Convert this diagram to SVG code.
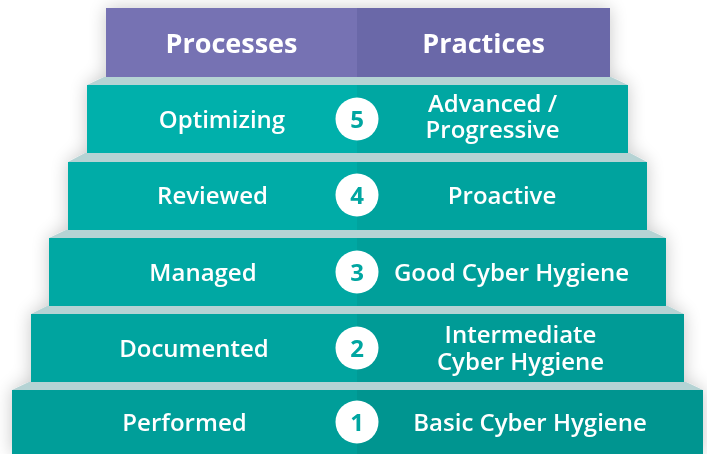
<svg xmlns="http://www.w3.org/2000/svg" width="707" height="454" viewBox="0 0 707 454">
<defs>
<filter id="sh" x="-10%" y="-10%" width="120%" height="120%">
<feGaussianBlur in="SourceAlpha" stdDeviation="9"/>
<feComponentTransfer><feFuncA type="linear" slope="0.22"/></feComponentTransfer>
<feMerge><feMergeNode/><feMergeNode in="SourceGraphic"/></feMerge>
</filter>
</defs>
<style>
.lbl{font-family:"Open Sans","Liberation Sans",sans-serif;font-size:24px;font-weight:600;fill:#ffffff;text-anchor:middle}
.hdr{font-family:"Open Sans","Liberation Sans",sans-serif;font-size:27px;font-weight:700;fill:#ffffff;text-anchor:middle}
.num{font-family:"Open Sans","Liberation Sans",sans-serif;font-size:24px;font-weight:700;fill:#00a6a1;text-anchor:middle}
.bev{fill:#b5d3d4}
.dot{fill:#ffffff}
</style>
<rect width="707" height="454" fill="#ffffff"/>
<g filter="url(#sh)">
<g id="header">
<rect x="106" y="8" width="251" height="69" fill="#7672b3"/>
<rect x="357" y="8" width="253" height="69" fill="#6b67a8"/>
<text class="hdr" x="231.5" y="53">Processes</text>
<text class="hdr" x="483.5" y="53">Practices</text>
</g>
<g id="step5">
<polygon class="bev" points="104,77 611,77 628,85 87,85"/>
<rect x="87" y="85" width="270" height="68" fill="#00b0ab"/>
<rect x="357" y="85" width="271" height="68" fill="#00a7a2"/>
<circle class="dot" cx="357" cy="119" r="21.5"/>
<text class="num" x="357" y="127.5">5</text>
<text class="lbl" x="222" y="127.5">Optimizing</text>
<text class="lbl" x="492.5" y="112">Advanced /</text>
<text class="lbl" x="492.5" y="138">Progressive</text>
</g>
<g id="step4">
<polygon class="bev" points="85,153 630,153 647,162 68,162"/>
<rect x="68" y="162" width="289" height="68" fill="#00aca7"/>
<rect x="357" y="162" width="290" height="68" fill="#00a39e"/>
<circle class="dot" cx="357" cy="195" r="21.5"/>
<text class="num" x="357" y="203.5">4</text>
<text class="lbl" x="212.5" y="203.5">Reviewed</text>
<text class="lbl" x="502" y="203.5">Proactive</text>
</g>
<g id="step3">
<polygon class="bev" points="66,230 649,230 666,238 49,238"/>
<rect x="49" y="238" width="308" height="68" fill="#00a8a3"/>
<rect x="357" y="238" width="309" height="68" fill="#009f9a"/>
<circle class="dot" cx="357" cy="272" r="21.5"/>
<text class="num" x="357" y="280.5">3</text>
<text class="lbl" x="203" y="280.5">Managed</text>
<text class="lbl" x="511.5" y="280.5">Good Cyber Hygiene</text>
</g>
<g id="step2">
<polygon class="bev" points="47,306 668,306 684,314 31,314"/>
<rect x="31" y="314" width="326" height="68" fill="#00a49f"/>
<rect x="357" y="314" width="327" height="68" fill="#009b96"/>
<circle class="dot" cx="357" cy="348" r="21.5"/>
<text class="num" x="357" y="356.5">2</text>
<text class="lbl" x="194" y="356.5">Documented</text>
<text class="lbl" x="520.5" y="343">Intermediate</text>
<text class="lbl" x="520.5" y="370">Cyber Hygiene</text>
</g>
<g id="step1">
<polygon class="bev" points="29,382 686,382 703,390 12,390"/>
<rect x="12" y="390" width="345" height="64" fill="#009e99"/>
<rect x="357" y="390" width="346" height="64" fill="#009590"/>
<circle class="dot" cx="357" cy="422" r="21.5"/>
<text class="num" x="357" y="430.5">1</text>
<text class="lbl" x="184.5" y="430.5">Performed</text>
<text class="lbl" x="530" y="430.5">Basic Cyber Hygiene</text>
</g>
</g>
<g id="connectors"/>
</svg>
